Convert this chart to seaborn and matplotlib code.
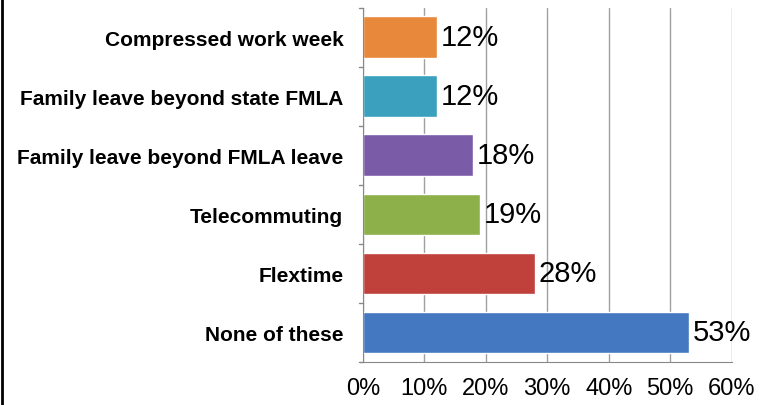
import numpy as np
import pandas as pd
import matplotlib
matplotlib.use("Agg")
import matplotlib.pyplot as plt
import seaborn as sns

categories = ["Compressed work week", "Family leave beyond state FMLA",
              "Family leave beyond FMLA leave", "Telecommuting",
              "Flextime", "None of these"]
values = [12, 12, 18, 19, 28, 53]
colors = ["#E8883A", "#3AA0BE", "#7A5BA8", "#8DB04A", "#C0403C", "#4478C0"]
x_ticks = [0, 10, 20, 30, 40, 50, 60]

df = pd.DataFrame({"category": categories, "value": values})

sns.set_style("white")
plt.rcParams["font.family"] = ["Liberation Sans", "DejaVu Sans"]

fig = plt.figure(figsize=(7.67, 4.06), dpi=100)
ax = fig.add_axes([0.473, 0.106, 0.481, 0.872])

sns.barplot(data=df, x="value", y="category", hue="category", palette=colors,
            order=categories, width=0.71, legend=False, ax=ax, saturation=1)

ax.set_xlim(0, 60)
ax.set_ylim(len(categories) - 0.5, -0.5)
ax.set_xticks(x_ticks)
ax.set_xticklabels([f"{t}%" for t in x_ticks], fontsize=17, color="black")
ax.set_xlabel("")
ax.set_ylabel("")
ax.set_yticks(range(len(categories)))
ax.set_yticklabels(categories, fontsize=15, fontweight="bold", color="black")
ax.tick_params(axis="y", length=0, pad=14)
ax.tick_params(axis="x", length=5, color="#888888", pad=6)

ax.xaxis.grid(True, color="#a0a0a0", linewidth=1)
ax.set_axisbelow(True)
for s in ["top", "right"]:
    ax.spines[s].set_visible(False)
ax.spines["left"].set_color("#888888")
ax.spines["bottom"].set_color("#888888")

# small boundary ticks on the y axis
for b in np.arange(-0.5, len(categories), 1.0):
    ax.plot([-0.6, 0], [b, b], color="#888888", lw=1, clip_on=False)

for i, v in enumerate(values):
    ax.text(v + 0.6, i, f"{v}%", va="center", ha="left", fontsize=21, color="black")

# left border line of the original image
fig.add_artist(plt.Line2D([0.002, 0.002], [0, 1], color="black", lw=2,
                          transform=fig.transFigure))

fig.savefig("out.png", dpi=100)
